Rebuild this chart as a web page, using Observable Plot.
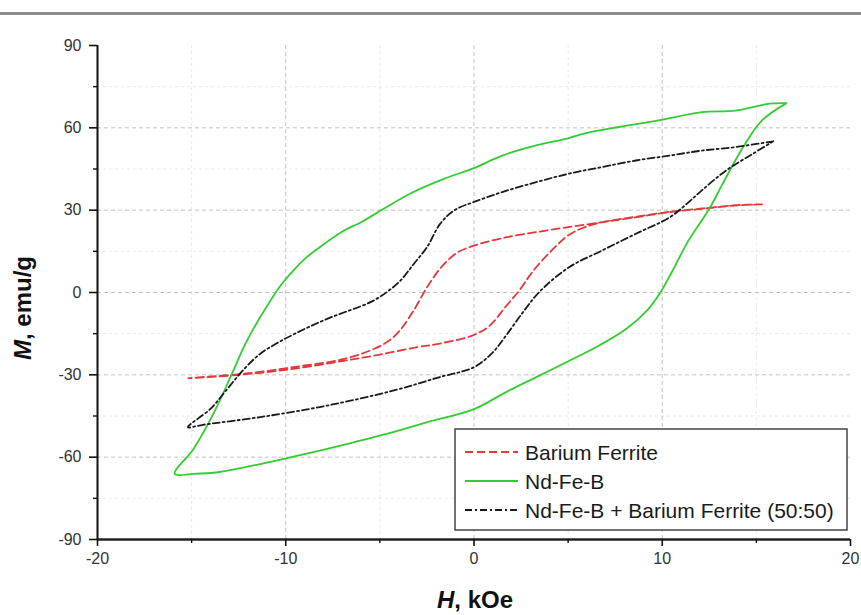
<!DOCTYPE html>
<html><head><meta charset="utf-8">
<script src="https://cdn.jsdelivr.net/npm/d3@7"></script>
<script src="https://cdn.jsdelivr.net/npm/@observablehq/plot@0.6"></script>
<style>
body{margin:0;background:#fff;}
#wrap{position:relative;width:861px;height:615px;overflow:hidden;background:#fff;}
#topline{position:absolute;left:0;top:12px;width:861px;height:3px;background:#8c8c8c;}
#chart{position:absolute;left:0;top:0;}
</style></head><body>
<div id="wrap"><div id="chart"></div><div id="topline"></div></div>
<script>
// Barium Ferrite loop (H in kOe, M in emu/g)
const bafeH = [15.3, 13.9, 12.1, 10.4, 8.6, 6.8, 5.2, 3.3, 1.5, 0.2, -0.9, -1.7, -2.2, -2.6, -3.2, -3.9, -4.5, -5.3, -6.9, -9.6, -12.2, -15.2,
               -13.0, -10.0, -7.0, -5.0, -3.0, -1.9, -0.1, 0.8, 1.7, 2.4, 2.9, 3.3, 4.3, 5.0, 5.8, 7.0, 8.6, 10.4, 12.1, 13.9, 15.3];
const bafeM = [32.1, 31.7, 30.5, 29.3, 27.4, 25.6, 24.0, 22.0, 19.8, 17.5, 14.5, 9.5, 5.0, 0.7, -6.5, -13.5, -17.5, -20.5, -24.2, -27.2, -29.6, -31.2,
               -30.3, -28.2, -25.0, -22.6, -19.9, -18.7, -15.7, -12.3, -5.0, 0.7, 5.6, 9.2, 16.5, 20.8, 23.6, 25.9, 27.6, 29.4, 30.6, 31.8, 32.1];

// Nd-Fe-B loop
const ndfebH = [16.6, 15.7, 13.9, 12.1, 9.8, 7.7, 5.9, 5.0, 3.3, 1.5, 0.0, -1.6, -3.4, -4.8, -6.0, -6.9, -8.2, -8.9, -9.6, -10.3, -11.2, -12.1, -12.9, -13.8, -14.9, -15.9,
                -14.9, -13.6, -12.2, -10.1, -7.8, -6.0, -4.3, -2.5, 0.0, 1.7, 3.5, 4.9, 6.65, 8.1, 9.2, 9.9, 10.5, 11.4, 12.5, 13.2, 14.3, 15.3, 16.6];
const ndfebM = [69.0, 68.8, 66.3, 65.7, 62.7, 60.3, 58.0, 56.2, 53.6, 49.9, 45.3, 41.4, 36.0, 30.5, 25.6, 22.6, 16.5, 12.8, 8.0, 2.3, -7.2, -18.1, -30.2, -43.6, -57.0, -66.1,
                -66.1, -65.5, -63.7, -60.6, -57.0, -53.9, -50.9, -47.3, -42.5, -36.3, -30.2, -25.4, -19.3, -13.2, -6.5, 0.0, 7.3, 19.0, 30.5, 39.5, 53.0, 62.7, 69.0];

// Nd-Fe-B + Barium Ferrite (50:50) loop
const mixH = [15.9, 13.9, 12.1, 10.4, 8.6, 6.8, 5.05, 3.3, 1.5, 0.0, -1.06, -1.8, -2.5, -3.2, -3.9, -4.6, -5.5, -7.8, -9.6, -10.5, -11.35, -12.2, -13.1, -14.0, -15.2,
              -14.4, -11.35, -7.8, -4.26, -1.86, 0.0, 1.0, 1.7, 2.6, 3.5, 5.05, 6.8, 8.6, 10.4, 11.3, 12.1, 13.4, 14.8, 15.9];
const mixM = [55.1, 53.0, 51.7, 49.9, 48.1, 45.7, 43.3, 40.2, 36.6, 33.0, 29.9, 25.0, 16.5, 10.4, 4.4, 0.3, -3.5, -9.6, -15.3, -18.6, -22.3, -27.8, -35.1, -42.4, -49.1,
              -48.2, -45.4, -41.2, -35.7, -30.9, -27.2, -21.8, -15.7, -7.2, 0.4, 9.2, 15.3, 21.4, 27.4, 32.3, 37.2, 44.5, 50.5, 55.1];

const seriesNames = ["Barium Ferrite", "Nd-Fe-B", "Nd-Fe-B + Barium Ferrite (50:50)"];
const xMajor = [-20, -10, 0, 10, 20];
const xMinor = [-15, -5, 5, 15];
const yMajor = [-90, -60, -30, 0, 30, 60, 90];
const yMinor = [-75, -45, -15, 15, 45, 75];
const xGrid = [-10, 0, 10];
const yGrid = [-60, -30, 0, 30, 60];

const zip = (H, M) => H.map((h, i) => ({h, m: M[i]}));
const bafe = zip(bafeH, bafeM), ndfeb = zip(ndfebH, ndfebM), mix = zip(mixH, mixM);

const RED = "#e3383c", GREEN = "#33cc33", BLACK = "#1a1a1a";
const styles = [
  {stroke: RED, dash: "8,4"},
  {stroke: GREEN, dash: null},
  {stroke: BLACK, dash: "7,3,2,3"}
];
const fmt = d => String(d);

const chart = Plot.plot({
  width: 861, height: 615,
  marginLeft: 97, marginRight: 11, marginTop: 45, marginBottom: 76,
  x: {domain: [-20, 20]},
  y: {domain: [-90, 90]},
  style: {fontFamily: "'Liberation Sans', Arial, sans-serif", background: "white"},
  marks: [
    Plot.ruleX(xMinor, {stroke: "#e8e8e8", strokeDasharray: "3,3"}),
    Plot.ruleY(yMinor, {stroke: "#e8e8e8", strokeDasharray: "3,3"}),
    Plot.ruleX(xGrid, {stroke: "#c2c2c2", strokeDasharray: "4,3"}),
    Plot.ruleY(yGrid, {stroke: "#c2c2c2", strokeDasharray: "4,3"}),
    Plot.line(bafe, {x: "h", y: "m", stroke: RED, strokeWidth: 1.8, strokeDasharray: "8,4", curve: "catmull-rom"}),
    Plot.line(ndfeb, {x: "h", y: "m", stroke: GREEN, strokeWidth: 1.8, curve: "catmull-rom"}),
    Plot.line(mix, {x: "h", y: "m", stroke: BLACK, strokeWidth: 1.8, strokeDasharray: "7,3,2,3", curve: "catmull-rom"}),
    Plot.ruleX([-20], {stroke: "#111", strokeWidth: 2}),
    Plot.ruleY([-90], {stroke: "#222", strokeWidth: 2.5}),
    Plot.axisX(xMajor, {tickSize: 7, tickPadding: 6, fontSize: 16, tickFormat: fmt, stroke: "#111", strokeWidth: 1.6, fill: "#333", label: null}),
    Plot.axisX(xMinor, {tickSize: 4, tickFormat: () => "", stroke: "#111", strokeWidth: 1.4, label: null}),
    Plot.axisY(yMajor, {tickSize: 8, tickPadding: 8, fontSize: 16, tickFormat: fmt, stroke: "#111", strokeWidth: 1.6, fill: "#333", label: null}),
    Plot.axisY(yMinor, {tickSize: 4, tickFormat: () => "", stroke: "#111", strokeWidth: 1.4, label: null})
  ]
});
document.getElementById("chart").appendChild(chart);

const svg = d3.select(chart);
const ff = "'Liberation Sans', Arial, sans-serif";

// y axis title
const yt = svg.append("text")
  .attr("transform", "translate(31,308) rotate(-90)")
  .attr("text-anchor", "middle")
  .attr("font-family", ff).attr("font-size", 24).attr("font-weight", "bold").attr("fill", "#111");
yt.append("tspan").attr("font-style", "italic").text("M");
yt.append("tspan").text(", emu/g");

// x axis title
const xt = svg.append("text")
  .attr("x", 475).attr("y", 608)
  .attr("text-anchor", "middle")
  .attr("font-family", ff).attr("font-size", 24).attr("font-weight", "bold").attr("fill", "#111");
xt.append("tspan").attr("font-style", "italic").text("H");
xt.append("tspan").text(", kOe");

// legend
const lg = svg.append("g");
lg.append("rect").attr("x", 455).attr("y", 429).attr("width", 392).attr("height", 101)
  .attr("fill", "white").attr("stroke", "#444").attr("stroke-width", 1.5);
const rowsY = [452, 481, 510];
seriesNames.forEach((name, i) => {
  lg.append("line").attr("x1", 465).attr("x2", 518).attr("y1", rowsY[i]).attr("y2", rowsY[i])
    .attr("stroke", styles[i].stroke).attr("stroke-width", 1.8)
    .attr("stroke-dasharray", styles[i].dash);
  lg.append("text").attr("x", 525).attr("y", rowsY[i]).attr("dy", "0.36em")
    .attr("text-anchor", "start")
    .attr("font-family", ff).attr("font-size", 21).attr("fill", "#1a1a1a").text(name);
});
</script>
</body></html>
